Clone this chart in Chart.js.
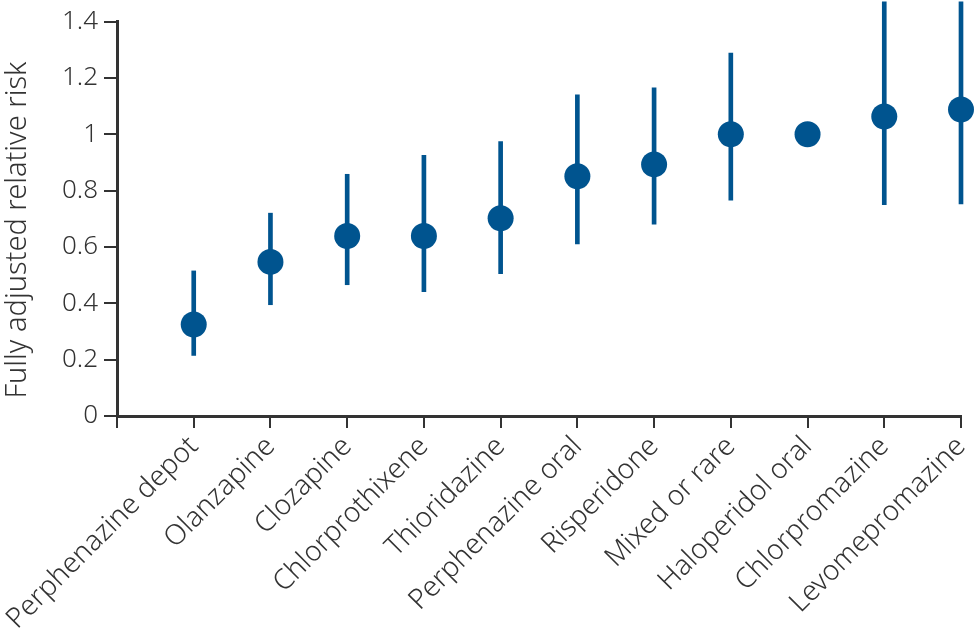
<!DOCTYPE html>
<html>
<head>
<meta charset="utf-8">
<script src="https://cdn.jsdelivr.net/npm/chart.js@4.4.1/dist/chart.umd.min.js"></script>
<style>
  body { margin: 0; background: #fff; }
  #wrap { width: 974px; height: 633px; }
</style>
</head>
<body>
<div id="wrap"><canvas id="riskChart"></canvas></div>
<script>
const categories = ['Perphenazine depot', 'Olanzapine', 'Clozapine', 'Chlorprothixene', 'Thioridazine',
    'Perphenazine oral', 'Risperidone', 'Mixed or rare', 'Haloperidol oral', 'Chlorpromazine', 'Levomepromazine'];
const relativeRisk = [0.325, 0.547, 0.639, 0.639, 0.702, 0.851, 0.893, 1.0, 1.0, 1.063, 1.088];
const ciLower = [0.215, 0.395, 0.466, 0.441, 0.505, 0.611, 0.681, 0.766, null, 0.750, 0.753];
const ciUpper = [0.515, 0.720, 0.858, 0.925, 0.974, 1.140, 1.165, 1.288, null, 1.470, 1.470];
const yTickLabels = ['0', '0.2', '0.4', '0.6', '0.8', '1', '1.2', '1.4'];

const BLUE = '#00548f';
const INK = '#333333';
const FONT = "'Noto Sans', 'Open Sans', sans-serif";

// first slot is empty so the y axis sits one step left of the first drug
const labels = [''].concat(categories);
const pointData = [null].concat(relativeRisk);
const ciData = [null].concat(categories.map((c, i) => ciLower[i] == null ? null : [ciLower[i], ciUpper[i]]));

new Chart(document.getElementById('riskChart').getContext('2d'), {
    type: 'bar',
    data: {
        labels: labels,
        datasets: [
            {
                type: 'line',
                label: 'Relative risk',
                data: pointData,
                showLine: false,
                pointRadius: 13,
                pointHoverRadius: 13,
                pointBackgroundColor: BLUE,
                pointBorderColor: BLUE,
                pointBorderWidth: 0,
                order: 0
            },
            {
                label: '95% CI',
                data: ciData,
                backgroundColor: BLUE,
                borderWidth: 0,
                borderSkipped: false,
                barThickness: 4,
                clip: false,
                order: 1
            }
        ]
    },
    options: {
        responsive: true,
        maintainAspectRatio: false,
        animation: false,
        layout: { padding: { top: 6, right: 12, left: 0, bottom: 0 } },
        plugins: { legend: { display: false }, tooltip: { enabled: false } },
        scales: {
            x: {
                offset: false,
                grid: { offset: false, drawOnChartArea: false, drawTicks: true, tickLength: 12, color: INK, lineWidth: 2 },
                border: { display: true, color: INK, width: 3 },
                ticks: {
                    autoSkip: false, minRotation: 45, maxRotation: 45, padding: 2,
                    color: INK, font: { family: FONT, size: 28, weight: '300' }
                },
                afterFit: scale => {
                    scale.height = 217;
                    // rotated labels end at their tick, so no extra room is needed at the sides
                    scale.paddingLeft = 0;
                    scale.paddingRight = 0;
                }
            },
            y: {
                min: 0, max: 1.4,
                grid: { drawOnChartArea: false, drawTicks: true, tickLength: 13, color: INK, lineWidth: 2 },
                border: { display: true, color: INK, width: 3 },
                ticks: {
                    stepSize: 0.2, padding: 6, color: INK,
                    font: { family: FONT, size: 26, weight: '300' },
                    callback: (v, i) => yTickLabels[i]
                },
                title: {
                    // trailing spaces nudge the title a little below the axis centre, as in the original
                    display: true, text: 'Fully adjusted relative risk   ', color: INK, padding: 0,
                    font: { family: FONT, size: 29, weight: '300' }
                },
                afterFit: scale => { scale.width = 117; }
            }
        }
    }
});
</script>
</body>
</html>
